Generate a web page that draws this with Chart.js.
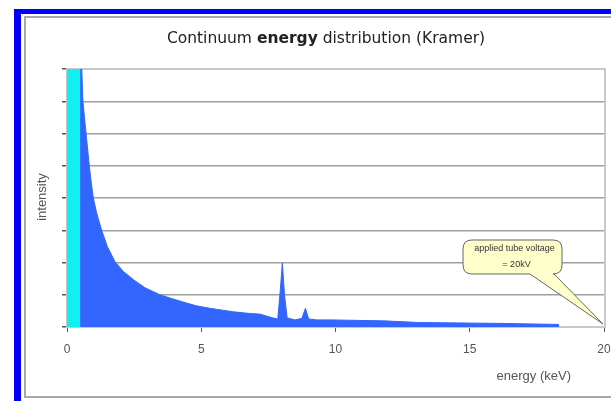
<!DOCTYPE html>
<html>
<head>
<meta charset="utf-8">
<script src="https://cdn.jsdelivr.net/npm/chart.js@4/dist/chart.umd.min.js"></script>
<style>
  html, body { margin: 0; padding: 0; background: #fff; }
  #wrap { position: absolute; left: 0; top: 0; width: 611px; height: 401px; }
</style>
</head>
<body>
<div id="wrap"><canvas id="chart" width="611" height="401"></canvas></div>
<script>
// spectrum (keV, arbitrary intensity)
const energy = [0.5, 0.5, 0.53, 0.55, 0.59, 0.65, 0.71, 0.77, 0.83, 0.9, 0.98, 1.1, 1.29, 1.5, 1.79, 2.1, 2.5, 2.9, 3.46, 3.9, 4.3, 4.8, 5.32, 5.8, 6.2, 6.8, 7.18, 7.67, 7.85, 7.95, 8.02, 8.1, 8.2, 8.5, 8.75, 8.88, 9.0, 9.3, 9.8, 11.8, 13.1, 16.3, 18.3, 18.3];
const intensity = [0, 10, 9, 8.0, 7.04, 6.5, 6.0, 5.5, 5.0, 4.5, 4.0, 3.55, 3.0, 2.5, 2.02, 1.72, 1.45, 1.22, 1.0, 0.88, 0.78, 0.66, 0.58, 0.52, 0.47, 0.42, 0.4, 0.28, 0.25, 1.2, 1.98, 1.0, 0.28, 0.22, 0.27, 0.58, 0.25, 0.22, 0.22, 0.19, 0.14, 0.11, 0.08, 0];

// absorbed low energy band
const bandEnergy = [0, 0.5];
const bandIntensity = [8, 8];
const edgeEnergy = [0.5, 0.5];
const edgeIntensity = [0, 8];

const xTicks = [0, 5, 10, 15, 20];
const yMax = 8;

const chartTitle = ['Continuum ', 'energy', ' distribution (Kramer)'];
const xTitle = 'energy (keV)';
const yTitle = 'intensity';
const calloutLines = ['applied tube voltage', '= 20kV'];

function pts(xs, ys) {
    return xs.map((x, i) => ({x: x, y: ys[i]}));
}

const framePlugin = {
    id: 'frame',
    beforeDraw(chart) {
        const ctx = chart.ctx;
        ctx.save();
        ctx.fillStyle = '#fff';
        ctx.fillRect(0, 0, chart.width, chart.height);
        ctx.fillStyle = '#0000ff';
        ctx.fillRect(14, 9, 7, 392);
        ctx.fillRect(14, 9, 597, 5);
        ctx.strokeStyle = '#a8a8a8';
        ctx.lineWidth = 2;
        ctx.strokeRect(25, 17, 700, 380);
        ctx.restore();
    },
    beforeDatasetsDraw(chart) {
        const a = chart.chartArea, ctx = chart.ctx;
        ctx.save();
        ctx.strokeStyle = '#c8c8c8';
        ctx.lineWidth = 2;
        ctx.strokeRect(a.left, a.top, a.right - a.left + 1, a.bottom - a.top);
        ctx.restore();
    },
    afterDraw(chart) {
        const ctx = chart.ctx;
        const xs = chart.scales.x;
        ctx.save();
        // title, middle word in bold
        ctx.textBaseline = 'middle';
        ctx.fillStyle = '#222';
        const fonts = ['15.5px "DejaVu Sans"', 'bold 15.5px "DejaVu Sans"', '15.5px "DejaVu Sans"'];
        let total = 0;
        chartTitle.forEach((t, i) => { ctx.font = fonts[i]; total += ctx.measureText(t).width; });
        let tx = 326 - total / 2;
        chartTitle.forEach((t, i) => {
            ctx.font = fonts[i];
            ctx.fillText(t, tx, 39);
            tx += ctx.measureText(t).width;
        });

        // axis titles
        ctx.fillStyle = '#555';
        ctx.font = '13px "Liberation Sans", Arial';
        ctx.textAlign = 'right';
        ctx.fillText(xTitle, 571, 376);
        ctx.save();
        ctx.translate(42, 197);
        ctx.rotate(-Math.PI / 2);
        ctx.textAlign = 'center';
        ctx.fillText(yTitle, 0, 0);
        ctx.restore();

        // callout pointing at the end of the energy axis
        const tipX = xs.getPixelForValue(20) - 1;
        const tipY = chart.scales.y.getPixelForValue(0) - 3;
        const bx = 463, by = 240, bw = 99, bh = 34, r = 9;
        ctx.beginPath();
        ctx.moveTo(bx + r, by);
        ctx.lineTo(bx + bw - r, by);
        ctx.quadraticCurveTo(bx + bw, by, bx + bw, by + r);
        ctx.lineTo(bx + bw, by + bh - r);
        ctx.quadraticCurveTo(bx + bw, by + bh, bx + bw - r, by + bh);
        ctx.lineTo(554, by + bh);
        ctx.lineTo(tipX, tipY);
        ctx.lineTo(530, by + bh);
        ctx.lineTo(bx + r, by + bh);
        ctx.quadraticCurveTo(bx, by + bh, bx, by + bh - r);
        ctx.lineTo(bx, by + r);
        ctx.quadraticCurveTo(bx, by, bx + r, by);
        ctx.closePath();
        ctx.fillStyle = '#ffffcc';
        ctx.fill();
        ctx.strokeStyle = '#666';
        ctx.lineWidth = 1;
        ctx.stroke();
        ctx.fillStyle = '#333';
        ctx.font = '9px "Liberation Sans", Arial';
        ctx.textAlign = 'center';
        ctx.fillText(calloutLines[0], bx + bw / 2 + 2, by + 9);
        ctx.fillText(calloutLines[1], bx + bw / 2 + 4, by + 25);
        ctx.restore();
    }
};

const config = {
    type: 'line',
    data: {
        datasets: [{
            label: 'band',
            data: pts(bandEnergy, bandIntensity),
            backgroundColor: '#0ff0f0',
            borderWidth: 0,
            fill: 'origin',
            pointRadius: 0
        }, {
            label: 'spectrum',
            data: pts(energy, intensity),
            backgroundColor: 'rgb(51,102,255)',
            borderColor: 'rgb(51,102,255)',
            borderWidth: 1,
            fill: 'origin',
            pointRadius: 0,
            tension: 0
        }, {
            label: 'edge',
            data: pts(edgeEnergy, edgeIntensity),
            borderColor: '#e020e0',
            borderWidth: 1,
            fill: false,
            pointRadius: 0
        }]
    },
    options: {
        responsive: false,
        animation: false,
        layout: { padding: { left: 0, right: 7, top: 69, bottom: 0 } },
        plugins: {
            legend: { display: false },
            tooltip: { enabled: false },
            title: { display: false }
        },
        scales: {
            x: {
                type: 'linear',
                min: 0,
                max: 20,
                afterBuildTicks(scale) { scale.ticks = xTicks.map(v => ({value: v})); },
                afterFit(scale) {
                    scale.height = 74;
                    scale.paddingLeft = 0;
                    scale.paddingRight = 0;
                },
                grid: { display: true, drawOnChartArea: false, drawTicks: true, tickLength: 5, color: '#555' },
                border: { display: true, color: '#666', width: 1 },
                ticks: { color: '#555', font: { family: '"Liberation Sans", Arial', size: 12 }, padding: 10, maxRotation: 0 }
            },
            y: {
                min: 0,
                max: yMax,
                z: 1,
                afterFit(scale) { scale.width = 67; },
                grid: { color: 'rgba(0,0,0,0.38)', lineWidth: 1.5, drawTicks: true, tickLength: 5, tickColor: '#555' },
                border: { display: true, color: '#666', width: 1 },
                ticks: { stepSize: 1, display: false }
            }
        }
    },
    plugins: [framePlugin]
};

new Chart(document.getElementById('chart'), config);
</script>
</body>
</html>
